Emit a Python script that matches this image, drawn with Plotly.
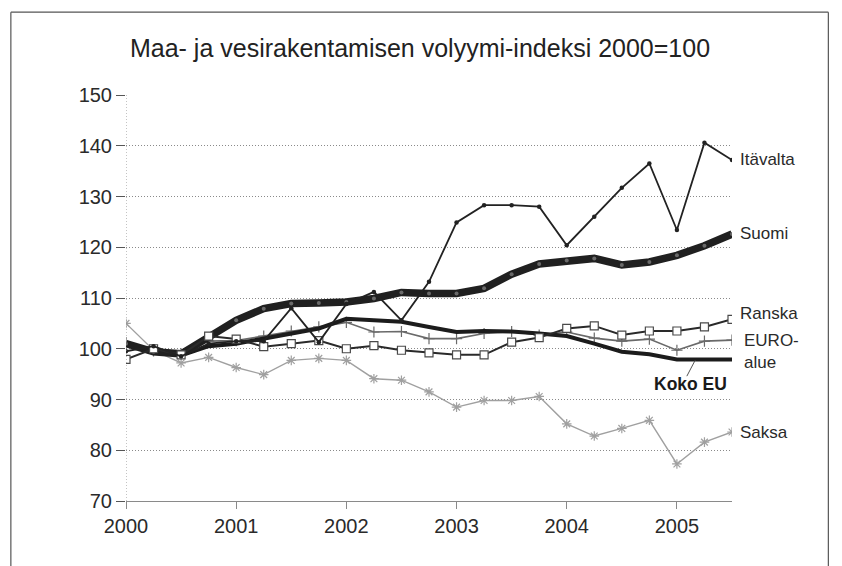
import plotly.graph_objects as go

# Quarterly observations 2000Q1 .. 2005Q3 (x in years)
quarters = [2000 + i * 0.25 for i in range(23)]

itavalta = [99.5, 100.5, 98.5, 101.0, 101.5, 101.5, 108.0, 101.3, 108.8, 111.2, 105.6, 113.2,
            124.9, 128.3, 128.3, 128.0, 120.4, 126.0, 131.7, 136.5, 123.4, 140.6, 137.2]
suomi = [101.0, 99.4, 99.0, 102.3, 105.6, 107.9, 108.9, 109.0, 109.2, 109.9, 111.1, 110.9,
         110.9, 111.9, 114.7, 116.7, 117.4, 117.8, 116.5, 117.1, 118.4, 120.3, 122.6]
ranska = [97.9, 100.0, 98.8, 102.5, 101.9, 100.4, 101.0, 101.6, 100.0, 100.6, 99.7, 99.2,
          98.8, 98.8, 101.3, 102.2, 104.0, 104.5, 102.7, 103.5, 103.5, 104.3, 105.8]
euroalue = [101.2, 99.6, 99.0, 101.5, 101.6, 102.5, 103.5, 104.3, 105.2, 103.3, 103.4, 102.0,
            102.0, 103.0, 103.4, 102.7, 103.3, 102.1, 101.5, 101.9, 99.7, 101.5, 101.7]
kokoeu = [101.0, 99.6, 98.7, 100.5, 101.0, 102.0, 102.9, 104.0, 105.9, 105.6, 105.3, 104.3,
          103.3, 103.5, 103.4, 103.0, 102.5, 101.0, 99.4, 98.9, 97.9, 97.9, 97.9]
saksa = [105.0, 99.7, 97.2, 98.3, 96.3, 94.9, 97.7, 98.1, 97.7, 94.1, 93.8, 91.5,
         88.5, 89.8, 89.8, 90.6, 85.2, 82.8, 84.3, 85.9, 77.3, 81.6, 83.6]

year_ticks = [2000, 2001, 2002, 2003, 2004, 2005]
y_ticks = [70, 80, 90, 100, 110, 120, 130, 140, 150]

title_text = "Maa- ja vesirakentamisen volyymi-indeksi 2000=100"
FONT = "Liberation Sans, Arial, sans-serif"

fig = go.Figure()

fig.add_trace(go.Scatter(x=quarters, y=saksa, mode="lines+markers", name="Saksa",
                         line=dict(color="#a0a0a0", width=1.4),
                         marker=dict(symbol="asterisk-open", size=8,
                                     line=dict(color="#9a9a9a", width=1.2))))
fig.add_trace(go.Scatter(x=quarters, y=euroalue, mode="lines+markers", name="EURO-alue",
                         line=dict(color="#6a6a6a", width=1.6),
                         marker=dict(symbol="cross-thin", size=8,
                                     line=dict(color="#6a6a6a", width=1.2))))
fig.add_trace(go.Scatter(x=quarters, y=kokoeu, mode="lines", name="Koko EU",
                         line=dict(color="#1c1c1c", width=4)))
fig.add_trace(go.Scatter(x=quarters, y=suomi, mode="lines+markers", name="Suomi",
                         line=dict(color="#202020", width=7.5),
                         marker=dict(symbol="circle", size=4, color="#6a6a6a")))
fig.add_trace(go.Scatter(x=quarters, y=ranska, mode="lines+markers", name="Ranska",
                         line=dict(color="#2a2a2a", width=2),
                         marker=dict(symbol="square", size=8, color="white",
                                     line=dict(color="#4a4a4a", width=1.2))))
fig.add_trace(go.Scatter(x=quarters, y=itavalta, mode="lines+markers", name="Itävalta",
                         line=dict(color="#222222", width=1.8),
                         marker=dict(symbol="circle", size=4.5, color="#222222")))

# End labels
labels = [
    ("Itävalta", itavalta[-1]),
    ("Suomi", suomi[-1] + 0.2),
    ("Ranska", 107.0),
    ("Saksa", 83.5),
]
for txt, yv in labels:
    fig.add_annotation(x=quarters[-1], y=yv, xref="x", yref="y", text=txt, showarrow=False,
                       xanchor="left", yanchor="middle", xshift=6,
                       font=dict(family=FONT, size=17, color="#2a2a2a"))
fig.add_annotation(x=quarters[-1], y=99.4, xref="x", yref="y", text="EURO-<br>alue",
                   showarrow=False, xanchor="left", yanchor="middle", xshift=10, align="left",
                   font=dict(family=FONT, size=17, color="#2a2a2a"))
fig.add_annotation(x=2005.12, y=93.0, xref="x", yref="y", text="<b>Koko EU</b>",
                   showarrow=False, xanchor="center", yanchor="middle",
                   font=dict(family=FONT, size=17.5, color="#1a1a1a"))
fig.add_shape(type="line", xref="x", yref="y", x0=2005.09, y0=94.6, x1=2005.165, y1=97.7,
              line=dict(color="#555555", width=1))

# Frame around chart (top, left, right)
frame = dict(color="#555555", width=1.2)
fig.add_shape(type="line", xref="paper", yref="paper", x0=-0.190, y0=1.204, x1=1.159, y1=1.204, line=frame)
fig.add_shape(type="line", xref="paper", yref="paper", x0=-0.190, y0=1.204, x1=-0.190, y1=-0.2, line=frame)
fig.add_shape(type="line", xref="paper", yref="paper", x0=1.159, y0=1.204, x1=1.159, y1=-0.2, line=frame)

fig.update_layout(
    width=842, height=566,
    margin=dict(l=126, r=110, t=95, b=65),
    paper_bgcolor="white", plot_bgcolor="white",
    showlegend=False,
    title=dict(text=title_text, x=420 / 842, xanchor="center", y=1 - 48 / 566, yanchor="middle",
               font=dict(family=FONT, size=25, color="#222222")),
    font=dict(family=FONT, color="#2a2a2a"),
)
fig.update_xaxes(range=[2000, 2005.5], tickvals=year_ticks, ticktext=[str(y) for y in year_ticks],
                 showgrid=False, zeroline=False, showline=True, linecolor="#8a8a8a", linewidth=1,
                 ticks="outside", ticklen=7, tickcolor="#8a8a8a", tickwidth=1,
                 tickfont=dict(family=FONT, size=20, color="#2a2a2a"))
fig.update_yaxes(range=[70, 150], tickvals=y_ticks, showgrid=True, gridcolor="#8a8a8a",
                 griddash="1px,2px", gridwidth=1, zeroline=False, showline=False,
                 ticks="outside", ticklen=9, tickcolor="#555555", tickwidth=1,
                 tickfont=dict(family=FONT, size=20, color="#2a2a2a"))
# dotted vertical y-axis line
fig.add_shape(type="line", xref="x", yref="paper", x0=2000, x1=2000, y0=0, y1=1,
              line=dict(color="#8a8a8a", width=1, dash="1px,2px"))

fig.write_html("out.html", config={"displayModeBar": False},
               post_script="document.body.style.margin='0';")
